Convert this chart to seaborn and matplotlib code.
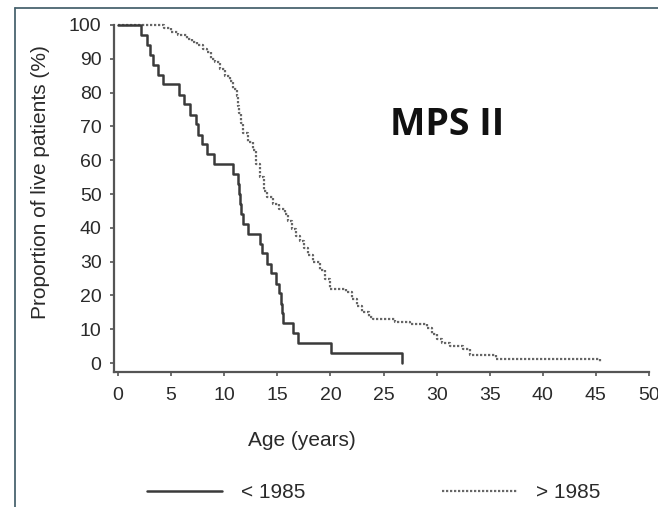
import numpy as np
import pandas as pd
import seaborn as sns
import matplotlib.pyplot as plt
from matplotlib.lines import Line2D

sns.set_style("ticks")
plt.rcParams['font.family'] = ['Liberation Sans', 'DejaVu Sans']

# Kaplan-Meier curves (age in years, % alive)
before_age = [0, 2.2, 2.7, 3.0, 3.3, 3.8, 4.2, 5.7, 6.2, 6.8, 7.3, 7.5, 7.9, 8.4, 9.0,
              10.8, 11.3, 11.4, 11.5, 11.6, 11.8, 12.2, 13.4, 13.6, 14.0, 14.4, 14.9,
              15.2, 15.3, 15.4, 15.5, 16.5, 16.9, 20.1, 26.7]
before_surv = [100, 97.1, 94.1, 91.2, 88.2, 85.3, 82.4, 79.4, 76.5, 73.5, 70.6, 67.6, 64.7, 61.8, 58.8,
               55.9, 52.9, 50.0, 47.1, 44.1, 41.2, 38.2, 35.3, 32.4, 29.4, 26.5, 23.5,
               20.6, 17.6, 14.7, 11.8, 8.8, 5.9, 2.9, 0]

after_age = [0, 4.3, 5.0, 5.6, 6.5, 7.0, 7.4, 8.0, 8.4, 8.8, 9.1, 9.6, 10.1, 10.5, 10.8,
             11.2, 11.3, 11.4, 11.6, 11.8, 12.2, 12.7, 13.0, 13.4, 13.7, 14.0, 14.6, 15.2,
             15.7, 16.0, 16.4, 16.8, 17.1, 17.5, 17.9, 18.4, 19.0, 19.5, 20.0, 21.5, 22.0,
             22.5, 23.0, 23.6, 24.0, 26.1, 27.5, 29.1, 29.6, 30.0, 30.5, 31.3, 32.5, 33.1,
             35.6, 45.4]
after_surv = [100, 99, 98, 97, 96, 95, 94, 93, 92, 90, 89, 87, 85, 83.5, 81,
              79, 76, 74, 71, 68, 65.5, 63, 59, 55, 51, 49, 47, 45.5,
              44, 42, 39.5, 37.5, 36, 34, 32, 30, 27.5, 25, 22, 21, 19,
              17, 15, 13.5, 13, 12.2, 11.5, 10.5, 8.5, 7, 6, 5, 4, 2.5,
              1.2, 0]

before = pd.DataFrame({'Age': before_age, 'Surv': before_surv})
after = pd.DataFrame({'Age': after_age, 'Surv': after_surv})

fig = plt.figure(figsize=(6.58, 5.07), dpi=100)
ax = fig.add_axes([114 / 658, 1 - 372 / 507, (649 - 114) / 658, (372 - 25) / 507])

sns.lineplot(ax=ax, data=after, x='Age', y='Surv', estimator=None, drawstyle='steps-post',
             color='#666666', linewidth=1.6, linestyle=(0, (1, 0.8)), clip_on=False, label='> 1985')
sns.lineplot(ax=ax, data=before, x='Age', y='Surv', estimator=None, drawstyle='steps-post',
             color='#3a3a3a', linewidth=1.8, clip_on=False, label='< 1985')

ax.set_xlim(-0.38, 50)
ax.set_ylim(-2.66, 100)
ax.set_xticks(np.arange(0, 51, 5))
ax.set_yticks(np.arange(0, 101, 10))
sns.despine(ax=ax)
for s in ['left', 'bottom']:
    ax.spines[s].set_color('#555555')
    ax.spines[s].set_linewidth(1.6)
ax.tick_params(axis='both', direction='out', length=3, width=1.2, color='#555555',
               labelsize=14, labelcolor='#2a2a2a')
ax.tick_params(axis='y', pad=6)
ax.tick_params(axis='x', pad=8)
ax.set_xlabel('Age (years)', fontsize=15, color='#2a2a2a', va='center')
ax.xaxis.set_label_coords(0.351, -0.196)
ax.set_ylabel('Proportion of live patients (%)', fontsize=15, color='#2a2a2a', va='center')
ax.yaxis.set_label_coords(-0.138, 0.548)

ax.text(25.6, 70.5, 'MPS II', fontsize=27, fontweight='bold', family='Open Sans',
        color='#111111', va='center', ha='left')

ax.get_legend().remove()
h_before = Line2D([], [], color='#3a3a3a', linewidth=1.8)
h_after = Line2D([], [], color='#666666', linewidth=1.6, linestyle=(0, (1, 0.8)))
fig.legend([h_before, h_after], ['< 1985', '> 1985'], loc='center', bbox_to_anchor=(0.568, 0.028),
           ncol=2, frameon=False, handlelength=3.6, columnspacing=6.6, handletextpad=0.9,
           prop={'size': 15}, labelcolor='#2a2a2a')

# figure frame (top and left border of the original panel)
fig.add_artist(Line2D([15 / 658, 15 / 658], [0, 1 - 8 / 507], transform=fig.transFigure,
                      color='#4a6470', linewidth=1.3))
fig.add_artist(Line2D([15 / 658, 1], [1 - 8 / 507, 1 - 8 / 507], transform=fig.transFigure,
                      color='#4a6470', linewidth=1.3))

fig.savefig('out.png', dpi=100)
